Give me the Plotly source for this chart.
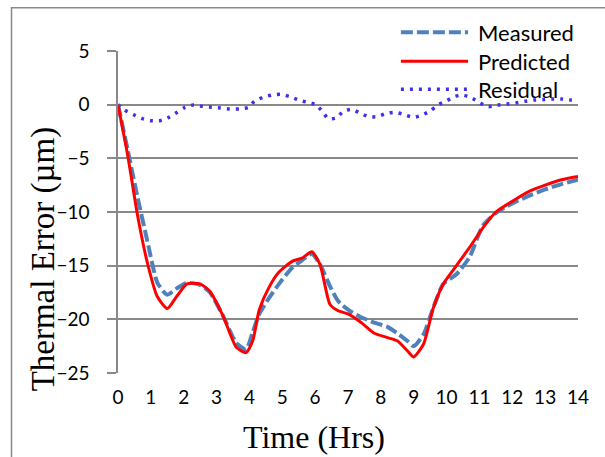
import plotly.graph_objects as go

# Time (hrs) for measured / predicted
time_h = [0, 0.3, 0.6, 0.9, 1.2, 1.5, 1.8, 2.1, 2.5, 2.8, 3.2, 3.6, 3.9, 4.1, 4.3,
          4.6, 4.9, 5.3, 5.6, 5.9, 6.15, 6.45, 6.7, 7.0, 7.4, 7.8, 8.2, 8.5, 8.8,
          9.0, 9.3, 9.6, 9.9, 10.3, 10.7, 11.1, 11.5, 12.0, 12.5, 13.0, 13.5, 14.0]

measured = [0, -4.3, -8.7, -12.8, -16.6, -17.7, -17.1, -16.6, -16.8, -17.5, -19.7,
            -22.2, -22.8, -21.2, -19.5, -18.0, -16.7, -15.2, -14.5, -13.9, -14.9,
            -16.9, -18.3, -19.1, -19.8, -20.3, -20.7, -21.3, -22.0, -22.5, -21.4,
            -18.9, -16.7, -15.8, -14.2, -11.3, -10.1, -9.2, -8.5, -7.9, -7.4, -7.0]

predicted = [0, -4.8, -10.4, -14.8, -17.9, -19.0, -17.8, -16.7, -16.7, -17.4, -19.7,
             -22.6, -23.1, -22.0, -19.1, -17.0, -15.6, -14.6, -14.3, -13.7, -14.9,
             -18.6, -19.2, -19.5, -20.3, -21.3, -21.7, -22.0, -22.9, -23.5, -22.3,
             -18.9, -16.7, -15.0, -13.3, -11.5, -10.0, -9.0, -8.1, -7.5, -7.0, -6.7]

res_time = [0, 0.2, 0.47, 0.74, 1.0, 1.28, 1.55, 1.8, 2.04, 2.29, 2.57, 2.85, 3.12,
            3.4, 3.7, 3.97, 4.15, 4.41, 4.69, 4.96, 5.23, 5.5, 5.76, 6.03, 6.22,
            6.4, 6.64, 6.86, 7.11, 7.36, 7.63, 7.89, 8.16, 8.43, 8.71, 8.99, 9.26,
            9.51, 9.75, 9.99, 10.24, 10.48, 10.73, 11.02, 11.27, 11.55, 11.83, 12.1,
            12.39, 12.66, 12.94, 13.22, 13.5, 13.78, 14.0]

residual = [0, -0.5, -0.93, -1.3, -1.49, -1.49, -1.18, -0.71, -0.25, -0.03, -0.16,
            -0.25, -0.31, -0.4, -0.4, -0.25, 0.31, 0.68, 0.9, 0.96, 0.75, 0.43, 0.22,
            0.0, -0.65, -1.3, -1.24, -0.62, -0.43, -0.78, -1.12, -1.12, -0.81, -0.71,
            -0.93, -1.18, -0.96, -0.56, 0.0, 0.34, 0.75, 0.9, 0.68, 0.16, -0.19,
            -0.03, 0.06, 0.16, 0.31, 0.43, 0.47, 0.53, 0.53, 0.43, 0.38]

x_ticks = list(range(0, 15))
y_ticks = [5, 0, -5, -10, -15, -20, -25]
series_names = ["Measured", "Predicted", "Residual"]
x_title = "Time (Hrs)"
y_title = "Thermal Error (µm)"

C_MEAS = "#4F81BD"
C_PRED = "#FF0000"
C_RES = "#3F2FEE"
GRID = "#898989"

fig = go.Figure()
fig.add_trace(go.Scatter(x=res_time, y=residual, mode="lines", name=series_names[2],
                         line=dict(color=C_RES, width=3.5, dash="3px,6px", shape="spline", smoothing=0.6)))
fig.add_trace(go.Scatter(x=time_h, y=measured, mode="lines", name=series_names[0],
                         line=dict(color=C_MEAS, width=4, dash="12px,4px", shape="spline", smoothing=0.6)))
fig.add_trace(go.Scatter(x=time_h, y=predicted, mode="lines", name=series_names[1],
                         line=dict(color=C_PRED, width=3, shape="spline", smoothing=0.6)))

# Manual legend (line samples + text) in paper coordinates
leg = [(series_names[0], C_MEAS, 4, "12px,4px", 1.058),
       (series_names[1], C_PRED, 3, "solid", 0.968),
       (series_names[2], C_RES, 3.5, "3px,6px", 0.881)]
shapes = []
annotations = []
for name, col, w, d, yy in leg:
    shapes.append(dict(type="line", xref="paper", yref="paper", x0=0.615, x1=0.761,
                       y0=yy, y1=yy, line=dict(color=col, width=w, dash=d)))
    annotations.append(dict(xref="paper", yref="paper", x=0.778, y=yy, text=name,
                            showarrow=False, xanchor="left", yanchor="middle",
                            font=dict(family="Lato", size=22, color="black")))

# Axis titles (placed like the original Excel chart)
annotations.append(dict(xref="paper", yref="paper", x=0.426, y=-0.2, text=x_title,
                        showarrow=False, xanchor="center", yanchor="middle",
                        font=dict(family="Liberation Serif", size=32, color="black")))
annotations.append(dict(xref="paper", yref="paper", x=-0.163, y=0.353, text=y_title,
                        showarrow=False, xanchor="center", yanchor="middle", textangle=-90,
                        font=dict(family="Liberation Serif", size=33, color="black")))

# Outer chart border
shapes.append(dict(type="rect", xref="paper", yref="paper", x0=-0.2315, x1=1.08,
                   y0=-0.3, y1=1.134, line=dict(color=GRID, width=1.5),
                   fillcolor="rgba(0,0,0,0)", layer="below"))

fig.update_layout(
    width=605, height=457,
    margin=dict(l=118, r=27, t=51, b=84),
    paper_bgcolor="white", plot_bgcolor="white",
    showlegend=False,
    shapes=shapes, annotations=annotations,
    xaxis=dict(range=[0, 14], tickvals=x_ticks, showgrid=False, zeroline=False,
               showline=False, ticks="", ticklabelstandoff=11,
               tickfont=dict(family="Lato", size=19, color="black")),
    yaxis=dict(range=[-25, 5], tickvals=y_ticks, showgrid=True, gridcolor=GRID, gridwidth=1.5,
               zeroline=False, showline=True, linecolor=GRID, linewidth=1.5,
               ticks="outside", ticklen=9, tickcolor=GRID, tickwidth=1.5,
               ticklabelstandoff=14,
               tickfont=dict(family="Lato", size=19, color="black")),
)

fig.write_html("out.html")
